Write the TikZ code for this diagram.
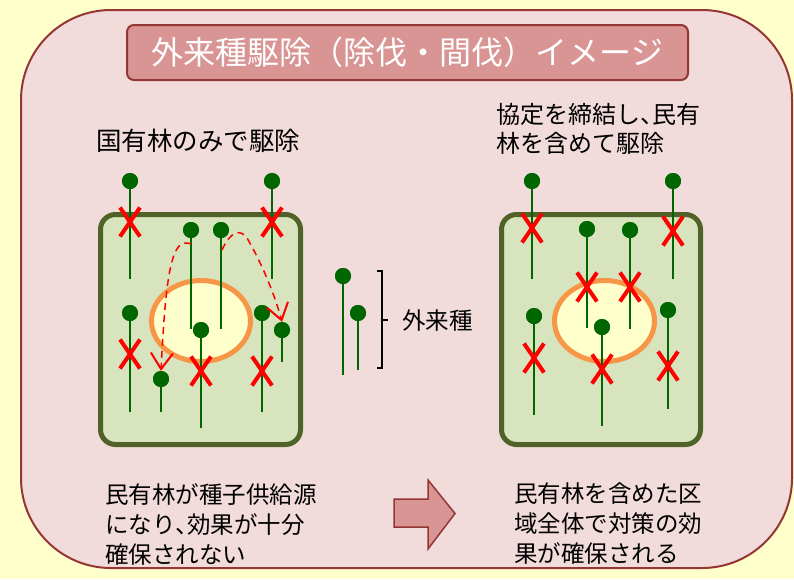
\documentclass[tikz,border=0pt]{standalone}
\usepackage{fontspec}
\setmainfont{Noto Sans CJK JP}
\newfontfamily\paltfont[RawFeature=+palt]{Noto Sans CJK JP}
\newcommand{\hcomma}{{\paltfont 、}}
\usetikzlibrary{arrows.meta,shapes.misc}
\definecolor{bgyellow}{HTML}{FFFFCC}
\definecolor{panelpink}{HTML}{F2DCDB}
\definecolor{darkred}{HTML}{943634}
\definecolor{titlepink}{HTML}{D99594}
\definecolor{forestfill}{HTML}{D7E4BD}
\definecolor{forestline}{HTML}{4F6228}
\definecolor{pondline}{HTML}{F79646}
\definecolor{pondfill}{HTML}{FFFFCC}
\definecolor{treegreen}{HTML}{006600}
\begin{document}
\begin{tikzpicture}[x=1pt,y=-1pt,
  panel/.style={fill=panelpink,draw=darkred,line width=2pt,rounded corners=90pt},
  titlebox/.style={fill=titlepink,draw=darkred,line width=2pt,rounded corners=7pt,
    text=white,font=\fontsize{32}{36}\selectfont,minimum width=561pt,minimum height=55pt,inner sep=0pt},
  forest/.style={fill=forestfill,draw=forestline,line width=5pt,rounded corners=15pt},
  pond/.style={fill=pondfill,draw=pondline,line width=5pt},
  dot/.style={circle,fill=treegreen,minimum size=16pt,inner sep=0pt},
  stem/.style={draw=treegreen,line width=2pt},
  xmark/.style={cross out,draw=red,line width=4pt,minimum width=16pt,minimum height=25pt,inner sep=0pt},
  spread/.style={draw=red,line width=1.5pt,dash pattern=on 7pt off 5pt,
    -{Straight Barb[length=16pt,width=22pt,line width=2pt]}},
  txt/.style={anchor=north west,inner sep=0pt,align=left},
  bracket/.style={draw=black,line width=1.5pt},
  bigarrow/.style={fill=titlepink,draw=darkred,line width=1.5pt,line join=miter}
]
\useasboundingbox (0,0) rectangle (794,579);
\fill[bgyellow] (0,0) rectangle (794,579);
\draw[panel] (21,10) rectangle (792,568);
\node[titlebox] (title) at (407.5,52.5) {外来種駆除（除伐・間伐）イメージ};

% headings
\node[txt,font=\fontsize{25.5}{29}\selectfont] (headL) at (96,129) {国有林のみで駆除};
\node[txt,font=\fontsize{24}{29}\selectfont] (headR) at (496,103) {協定を締結し\hcomma 民有\\林を含めて駆除};

% left forest
\draw[forest] (100.5,214.5) rectangle (300.5,444.5);
\draw[pond] (201,321) ellipse [x radius=49.5,y radius=40.5];
\foreach \n/\x/\yt/\yb in {L1/130/181/279,L2/272/181/279,L3/191/230/329,L4/221/230/329,
  L5/130/313/412,L6/161/379/412,L7/201/330/428,L8/262/313/412,L9/282/330/362}{
  \coordinate (\n b) at (\x,\yb);
  \node[dot] (\n) at (\x,\yt) {};
  \draw[stem] (\n.center) -- (\n b);
  \node[dot] at (\n) {};
}
\foreach \n/\x/\y in {XL1/130/222,XL2/272/222,XL3/130/354,XL4/201/371,XL5/262/371}{
  \node[xmark] (\n) at (\x,\y) {};
}
\coordinate (s1) at (191,244);
\coordinate (s2) at (222,250);
\draw[spread] (s1) .. controls (172,236) and (166,270) .. (L6.north);
\draw[spread] (s2) .. controls (230,232) and (240,228) .. (247,238) .. controls (260,260) and (274,292) .. (L9.north);

% right forest
\draw[forest] (501.5,214.5) rectangle (700.5,444.5);
\draw[pond] (604.5,321) ellipse [x radius=50,y radius=40.5];
\foreach \n/\x/\yt/\yb in {R1/532/181/279,R2/673/181/279,R3/587/229/328,R4/630/230/329,
  R5/534/316/415,R6/602/327/426,R7/668/310/409}{
  \coordinate (\n b) at (\x,\yb);
  \node[dot] (\n) at (\x,\yt) {};
  \draw[stem] (\n.center) -- (\n b);
  \node[dot] at (\n) {};
}
\foreach \n/\x/\y in {XR1/532/228,XR2/673/231,XR3/587/287,XR4/630/287,XR5/534/358,XR6/602/369,XR7/668/366}{
  \node[xmark] (\n) at (\x,\y) {};
}

% legend
\foreach \n/\x/\yt/\yb in {A/343/276/375,B/358/313/370}{
  \coordinate (\n b) at (\x,\yb);
  \node[dot] (\n) at (\x,\yt) {};
  \draw[stem] (\n.center) -- (\n b);
  \node[dot] at (\n) {};
}
\coordinate (bt) at (377,271);
\coordinate (bb) at (377,368);
\coordinate (bm) at (382,320);
\coordinate (bmr) at (388,320);
\draw[bracket] (bt) -- ++(5,0) |- (bb);
\draw[bracket] (bm) -- (bmr);
\node[anchor=west,inner sep=0pt,font=\fontsize{23.5}{28}\selectfont] (legend) at (402,321) {外来種};

% bottom texts
\node[txt,font=\fontsize{23.5}{30}\selectfont] (botL) at (105,483) {民有林が種子供給源\\になり\hcomma 効果が十分\\確保されない};
\node[txt,font=\fontsize{23.5}{30}\selectfont] (botR) at (514,483) {民有林を含めた区\\域全体で対策の効\\果が確保される};

% block arrow
\draw[bigarrow] (394,499) -- (428,499) -- (428,480) -- (455,513.5) -- (428,549) -- (428,527) -- (394,527) -- cycle;
\end{tikzpicture}
\end{document}
